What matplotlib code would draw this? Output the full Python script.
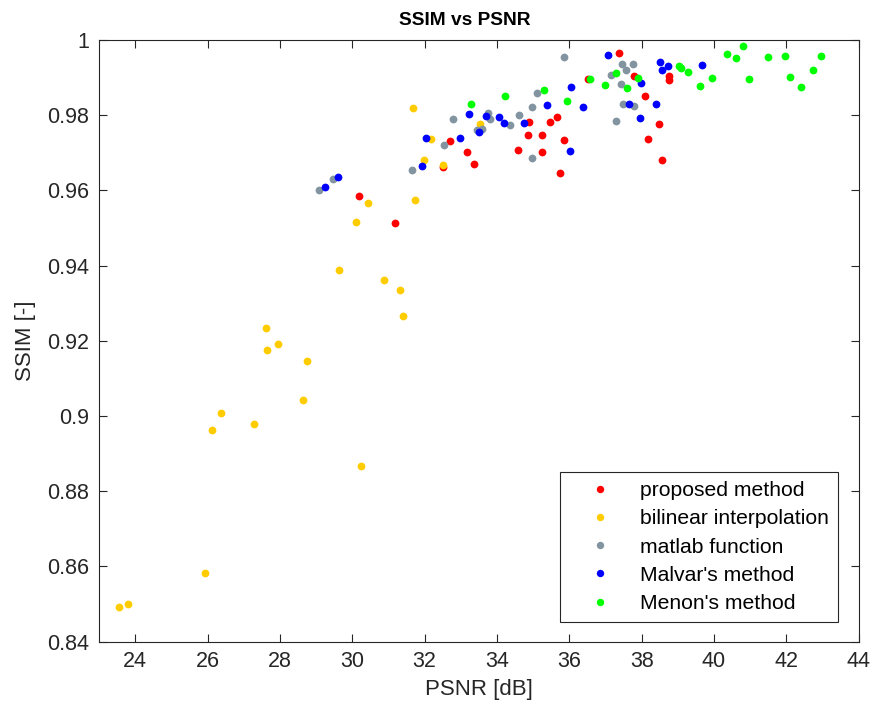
import numpy as np
import matplotlib
matplotlib.use("Agg")
import matplotlib.pyplot as plt
from matplotlib.ticker import FuncFormatter

plt.rcParams["font.family"] = ["Liberation Sans", "DejaVu Sans"]

# PSNR [dB] / SSIM [-] per method
prop_psnr = [30.20, 31.18, 32.51, 32.69, 33.18, 33.37, 34.58, 34.86, 34.90, 35.24, 35.25, 35.48,
             35.65, 35.73, 35.84, 36.51, 37.38, 37.78, 38.08, 38.17, 38.48, 38.57, 38.77, 38.75]
prop_ssim = [0.9585, 0.9513, 0.9662, 0.9732, 0.9702, 0.9670, 0.9708, 0.9748, 0.9782, 0.9702, 0.9747, 0.9782,
             0.9794, 0.9647, 0.9734, 0.9895, 0.9965, 0.9904, 0.9852, 0.9738, 0.9777, 0.9681, 0.9904, 0.9894]

bil_psnr = [23.55, 23.80, 25.94, 30.25, 30.43, 30.10, 29.64, 30.89, 27.62, 27.65, 27.95, 28.76,
            28.64, 26.37, 26.12, 27.28, 31.32, 31.40, 31.73, 31.69, 33.52, 32.18, 31.98, 32.51]
bil_ssim = [0.8491, 0.8501, 0.8584, 0.8866, 0.9567, 0.9516, 0.9389, 0.9362, 0.9234, 0.9176, 0.9191, 0.9147,
            0.9043, 0.9007, 0.8963, 0.8978, 0.9335, 0.9267, 0.9575, 0.9820, 0.9777, 0.9736, 0.9682, 0.9668]

mat_psnr = [29.09, 29.48, 31.66, 32.54, 32.79, 33.45, 33.59, 33.76, 33.82, 34.35, 34.61, 34.98,
            35.12, 34.97, 35.84, 37.14, 37.47, 37.77, 37.56, 37.44, 37.49, 37.78, 37.29]
mat_ssim = [0.9601, 0.9630, 0.9653, 0.9721, 0.9791, 0.9761, 0.9763, 0.9806, 0.9791, 0.9773, 0.9801, 0.9822,
            0.9860, 0.9685, 0.9955, 0.9906, 0.9935, 0.9935, 0.9920, 0.9883, 0.9829, 0.9824, 0.9785]

mal_psnr = [29.25, 29.61, 31.92, 32.03, 32.97, 33.24, 33.51, 33.71, 34.07, 34.19, 34.75, 35.38,
            36.01, 36.05, 36.37, 37.07, 37.65, 37.96, 37.97, 38.41, 38.52, 38.72, 38.56, 39.68]
mal_ssim = [0.9610, 0.9636, 0.9664, 0.9740, 0.9739, 0.9804, 0.9756, 0.9799, 0.9795, 0.9779, 0.9780, 0.9828,
            0.9706, 0.9875, 0.9822, 0.9961, 0.9831, 0.9792, 0.9885, 0.9830, 0.9942, 0.9931, 0.9920, 0.9933]

men_psnr = [33.29, 34.23, 35.29, 35.95, 36.58, 36.99, 37.29, 37.59, 37.89, 39.02, 39.09, 39.29,
            39.60, 39.95, 40.37, 40.62, 40.79, 40.98, 41.48, 41.96, 42.11, 42.41, 42.75, 42.97]
men_ssim = [0.9830, 0.9851, 0.9867, 0.9839, 0.9895, 0.9880, 0.9913, 0.9873, 0.9898, 0.9931, 0.9925, 0.9915,
            0.9879, 0.9898, 0.9963, 0.9951, 0.99835, 0.9895, 0.9955, 0.9957, 0.9902, 0.9876, 0.9920, 0.9957]

labels = ["proposed method", "bilinear interpolation", "matlab function",
          "Malvar's method", "Menon's method"]
series = [(prop_psnr, prop_ssim, "#FF0000"),
          (bil_psnr, bil_ssim, "#FFCC00"),
          (mat_psnr, mat_ssim, "#8394A1"),
          (mal_psnr, mal_ssim, "#0000FF"),
          (men_psnr, men_ssim, "#00FF00")]

AX = "#262626"
fig = plt.figure(figsize=(8.74, 7.15), dpi=100)
ax = fig.add_axes([99 / 874, 1 - 641.7 / 715, 759.7 / 874, 601.7 / 715])

for (x, y, c), lab in zip(series, labels):
    ax.plot(x, y, "o", ls="none", color=c, ms=5.6, mew=0, label=lab)

ax.set_xlim(23, 44)
ax.set_ylim(0.84, 1.0)
ax.set_xticks(np.arange(24, 45, 2))
ax.set_yticks(np.arange(0.84, 1.001, 0.02))
ax.yaxis.set_major_formatter(FuncFormatter(lambda v, p: f"{v:g}"))
ax.tick_params(direction="in", length=5.5, width=0.8, colors=AX, labelsize=15.5,
               top=True, right=True, pad=7)
for s in ax.spines.values():
    s.set_color(AX)
    s.set_linewidth(0.8)

ax.set_xlabel("PSNR [dB]", fontsize=16, color=AX, labelpad=5)
ax.set_ylabel("SSIM [-]", fontsize=16, color=AX, labelpad=8)
ax.set_title("SSIM vs PSNR", fontsize=13.8, fontweight="bold", color="black",
             x=0.482, pad=11)

leg = ax.legend(loc="lower right", bbox_to_anchor=((838 - 99) / 759.7, (641.7 - 622) / 601.7),
                borderaxespad=0, fontsize=15.2, markerscale=0.95, handletextpad=0.46,
                labelspacing=0.44, borderpad=0.42, fancybox=False, framealpha=1,
                handlelength=2.94)
leg.get_frame().set_edgecolor(AX)
leg.get_frame().set_linewidth(0.8)

fig.savefig("out.png", dpi=100)
